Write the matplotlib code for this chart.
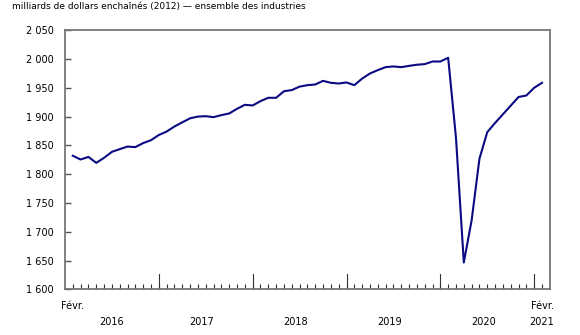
import matplotlib
matplotlib.use('Agg')
import matplotlib.pyplot as plt
import numpy as np

# monthly GDP, Feb 2016 - Feb 2021
values = [1832, 1825.5, 1830, 1819.7, 1828.4, 1838.8, 1843.5, 1848, 1847, 1854, 1859,
          1868, 1874, 1882.8, 1890, 1897, 1900, 1900.7, 1899, 1902.5, 1905.4, 1913.5, 1920.4,
          1919.3, 1926.8, 1932.6, 1932.6, 1944, 1946, 1952, 1954.5, 1955.7, 1962, 1958.6, 1957.4,
          1959.2, 1954.5, 1966, 1974.8, 1980.6, 1985.8, 1987, 1985.8, 1988, 1990, 1991, 1995.6,
          1995.6, 2002, 1863, 1646.8, 1720, 1827, 1873, 1889, 1904, 1919, 1934, 1936.6, 1950, 1958.6]
years = ['2016', '2017', '2018', '2019', '2020', '2021']
year_pos = [5, 16.5, 28.5, 40.5, 52.5, 60]
jan_idx = [11, 23, 35, 47, 59]
yticks = list(range(1600, 2051, 50))

plt.rcParams['font.family'] = 'DejaVu Sans'

fig = plt.figure(figsize=(5.8, 3.35), dpi=100)
ax = fig.add_axes([0.112, 0.136, 0.836, 0.774])

x = np.arange(len(values))
ax.plot(x, values, color='#0a0a82', linewidth=1.5)

ax.set_xlim(-1, 61)
ax.set_ylim(1600, 2050)

for s in ax.spines.values():
    s.set_color('#777777')
    s.set_linewidth(1.3)

ax.set_yticks(yticks)
ax.set_yticklabels(['{:,}'.format(v).replace(',', ' ') for v in yticks], fontsize=7)
ax.tick_params(axis='y', direction='in', length=4, width=1, color='#555555', pad=8)

ax.set_xticks(x)
ax.set_xticklabels([])
ax.tick_params(axis='x', direction='in', length=3.5, width=0.8, color='#333333')
for j in jan_idx:
    ax.plot([j, j], [0, 0.06], transform=ax.get_xaxis_transform(), color='#333333', linewidth=0.8, clip_on=False)

tr = ax.get_xaxis_transform()
ax.text(0, -0.062, 'Févr.', transform=tr, ha='center', va='center', fontsize=7)
ax.text(60, -0.062, 'Févr.', transform=tr, ha='center', va='center', fontsize=7)
for yr, p in zip(years, year_pos):
    ax.text(p, -0.124, yr, transform=tr, ha='center', va='center', fontsize=7)

fig.text(12 / 580, 1 - 7 / 335, 'milliards de dollars enchaînés (2012) — ensemble des industries',
         ha='left', va='center', fontsize=6.5)

fig.savefig('out.png', dpi=100)
